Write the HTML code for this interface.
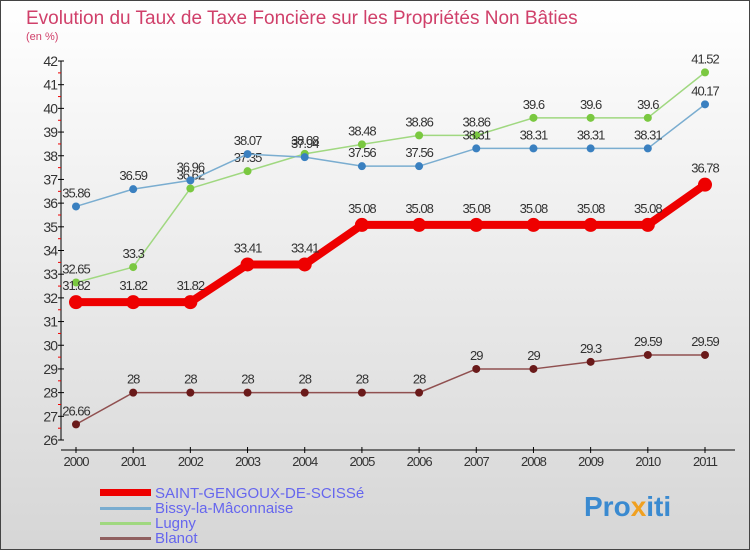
<!DOCTYPE html>
<html><head><meta charset="utf-8"><style>
body{margin:0}
#c{width:750px;height:550px;position:relative;overflow:hidden;font-family:"Liberation Sans",sans-serif}
</style></head><body>
<div id="c">
<svg id="s" width="750" height="550" xmlns="http://www.w3.org/2000/svg">
<defs><linearGradient id="bg" x1="0" y1="0" x2="0" y2="1"><stop offset="0" stop-color="#ffffff"/><stop offset="1" stop-color="#d6d6d6"/></linearGradient></defs>
<rect x="0.5" y="0.5" width="749" height="549" fill="url(#bg)" stroke="#444"/>
<text x="26" y="24" font-size="19" fill="#d0406a">Evolution du Taux de Taxe Foncière sur les Propriétés Non Bâties</text>
<text x="26" y="40" font-size="11" fill="#d0406a">(en %)</text>
<g id="axes"></g><g id="series"></g>
<g>
<rect x="100" y="489" width="51" height="7" fill="#ee0000"/>
<text x="155" y="498" font-size="15" fill="#6666ee">SAINT-GENGOUX-DE-SCISSé</text>
<rect x="100" y="507" width="51" height="3" fill="#7aadd0"/>
<text x="155" y="513" font-size="15" fill="#6666ee">Bissy-la-Mâconnaise</text>
<rect x="100" y="522" width="51" height="3" fill="#a0d880"/>
<text x="155" y="528" font-size="15" fill="#6666ee">Lugny</text>
<rect x="100" y="537" width="51" height="3" fill="#906060"/>
<text x="155" y="543" font-size="15" fill="#6666ee">Blanot</text>
</g>
<text x="584" y="516" font-size="28" font-weight="bold" fill="#3a8ad0">Pro<tspan fill="#f0a020">x</tspan><tspan fill="#3a8ad0">iti</tspan></text>
</svg></div>
<script>
const years=[2000,2001,2002,2003,2004,2005,2006,2007,2008,2009,2010,2011];
const yTicks=[26,27,28,29,30,31,32,33,34,35,36,37,38,39,40,41,42];
const saint=[31.82,31.82,31.82,33.41,33.41,35.08,35.08,35.08,35.08,35.08,35.08,36.78];
const bissy=[35.86,36.59,36.96,38.07,37.94,37.56,37.56,38.31,38.31,38.31,38.31,40.17];
const lugny=[32.65,33.3,36.62,37.35,38.08,38.48,38.86,38.86,39.6,39.6,39.6,41.52];
const blanot=[26.66,28,28,28,28,28,28,29,29,29.3,29.59,29.59];
const NS="http://www.w3.org/2000/svg";
const xS=i=>76+i*(705-76)/(years.length-1);
const yS=v=>440-(v-26)*(440-61)/16;
const ax=document.getElementById('axes'),se=document.getElementById('series');
function mk(p,t,a){const e=document.createElementNS(NS,t);for(const k in a)e.setAttribute(k,a[k]);p.appendChild(e);return e;}
let l=mk(ax,'line',{x1:61,y1:61,x2:61,y2:440,stroke:'#000'});

l=mk(ax,'line',{x1:61,y1:450,x2:735,y2:450,stroke:'#000'});

yTicks.forEach((v,i)=>{const y=yS(v);
 mk(ax,'line',{x1:58,y1:y,x2:64,y2:y,stroke:'#000'});
 if(i<yTicks.length-1)mk(ax,'line',{x1:58,y1:y-11.8,x2:61,y2:y-11.8,stroke:'#e00'});
 const t=mk(ax,'text',{x:57,y:y+5,'font-size':14,fill:'#333','text-anchor':'end','letter-spacing':'-1'});t.textContent=v;
 });
years.forEach((yr,i)=>{const x=xS(i);
 mk(ax,'line',{x1:x,y1:447,x2:x,y2:453,stroke:'#000'});
 const t=mk(ax,'text',{x:x,y:466,'font-size':13,fill:'#333','text-anchor':'middle','letter-spacing':'-1'});t.textContent=yr;
 });
function draw(name,data,color,w,r,dot){
 const g=mk(se,'g',{});
 mk(g,'polyline',{points:data.map((v,i)=>xS(i)+','+yS(v)).join(' '),fill:'none',stroke:color,'stroke-width':w,'stroke-linejoin':'round'});
 data.forEach((v,i)=>{const c=mk(g,'circle',{cx:xS(i),cy:yS(v),r:r,fill:dot});
  
  const t=mk(g,'text',{x:xS(i),y:yS(v)-r-5,'font-size':13,fill:'#333','text-anchor':'middle','letter-spacing':'-1'});t.textContent=v;
  });
}
draw('blanot',blanot,'#905050',1.5,4,'#6a1a1a');
draw('lugny',lugny,'#a0d880',1.5,4,'#7ac840');
draw('bissy',bissy,'#7aadd0',1.5,4,'#3a80c0');
draw('saint-gengoux',saint,'#ee0000',8,7,'#ee0000');
</script>
</body></html>
